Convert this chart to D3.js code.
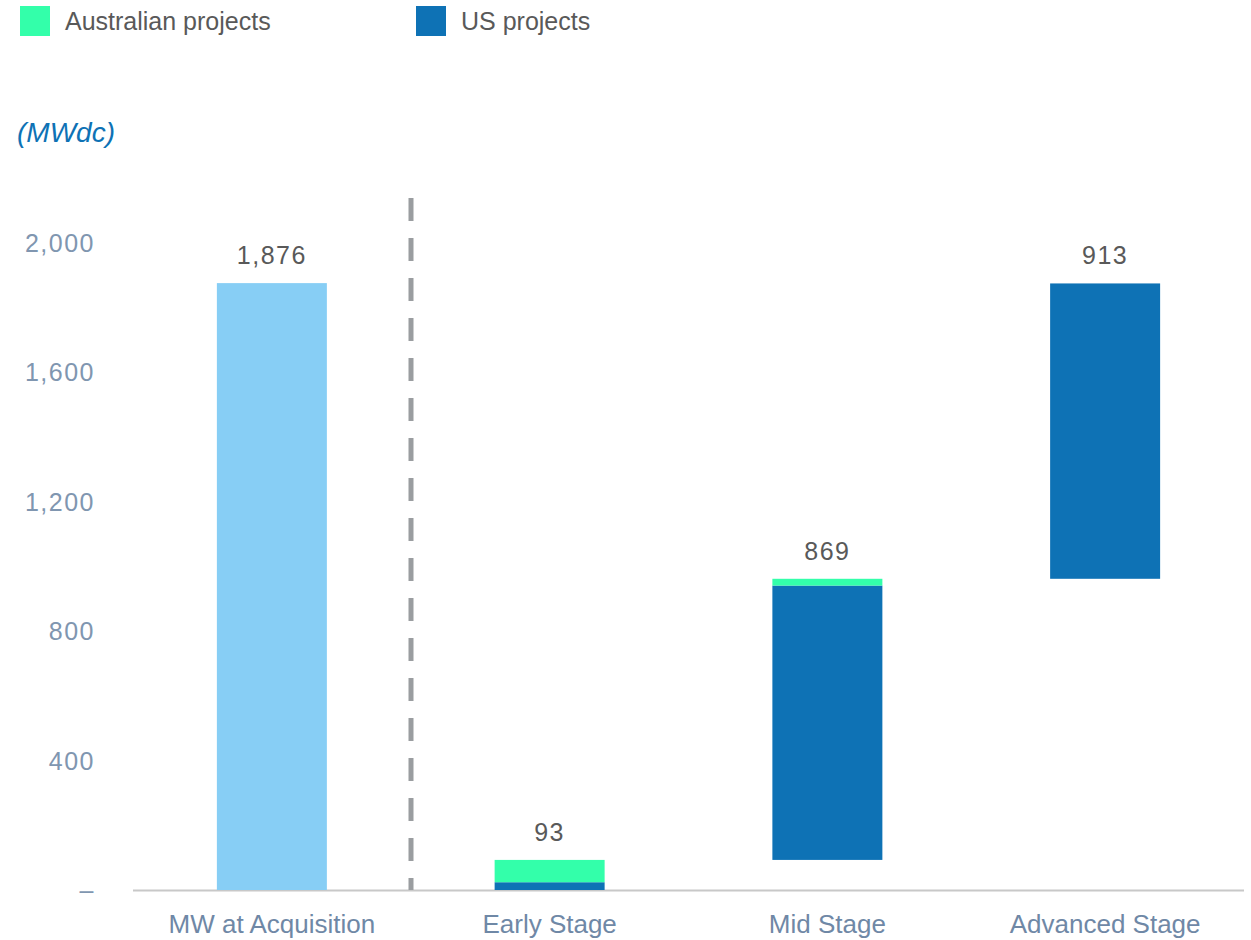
<!DOCTYPE html>
<html>
<head>
<meta charset="utf-8">
<script src="https://cdn.jsdelivr.net/npm/d3@7/dist/d3.min.js"></script>
<style>
  body { margin: 0; background: #fff; }
  text { font-family: "Liberation Sans", Arial, sans-serif; }
</style>
</head>
<body>
<script>
// categories and values
var categories = ["MW at Acquisition", "Early Stage", "Mid Stage", "Advanced Stage"];
var baseValues = [0, 0, 93, 962];          // where each step starts
var usValues = [0, 24, 848, 913];
var auValues = [0, 69, 21, 0];
var totalValues = [1876, 93, 869, 913];
var totalLabels = ["1,876", "93", "869", "913"];
var yTicks = [0, 400, 800, 1200, 1600, 2000];
var yTickLabels = ["\u2013", "400", "800", "1,200", "1,600", "2,000"];

var colAcq = "#87cef5", colAu = "#33ffaa", colUs = "#0e72b5";

var svg = d3.select("body").append("svg")
  .attr("width", 1251)
  .attr("height", 940);

// scales
var x = d3.scaleBand().domain(categories).range([133, 1244])
  .paddingInner(0.604).paddingOuter(0.302);
var y = d3.scaleLinear().domain([0, 2000]).range([890, 243]);

// legend
var legend = [{name: "Australian projects", c: colAu, x: 20}, {name: "US projects", c: colUs, x: 416}];
var lg = svg.append("g").selectAll("g").data(legend).enter().append("g");
lg.append("rect").attr("x", d => d.x).attr("y", 6).attr("width", 30).attr("height", 30).attr("fill", d => d.c);
lg.append("text").attr("x", d => d.x + 45).attr("y", 30).attr("font-size", 25)
  .attr("fill", "#595959").text(d => d.name);

// unit label
svg.append("text").attr("x", 17).attr("y", 142).attr("font-size", 28)
  .attr("font-style", "italic").attr("fill", colUs).text("(MWdc)");

// y tick labels
svg.append("g").selectAll("text").data(yTicks).enter().append("text")
  .attr("x", 95).attr("y", d => y(d) + 9)
  .attr("text-anchor", "end").attr("font-size", 25).attr("letter-spacing", 1.5)
  .attr("fill", "#8096b0")
  .text((d, i) => yTickLabels[i]);

// axis line
svg.append("line").attr("x1", 133).attr("x2", 1244).attr("y1", 890.5).attr("y2", 890.5)
  .attr("stroke", "#c8c8c8").attr("stroke-width", 2);

// separator
svg.append("line").attr("x1", 411).attr("x2", 411).attr("y1", 198).attr("y2", 890)
  .attr("stroke", "#9a9da0").attr("stroke-width", 5).attr("stroke-dasharray", "23,17");

// bars
var bars = svg.append("g");
categories.forEach(function(c, i) {
  var bx = x(c), bw = x.bandwidth();
  if (i === 0) {
    bars.append("rect").attr("x", bx).attr("width", bw)
      .attr("y", y(totalValues[0])).attr("height", y(0) - y(totalValues[0])).attr("fill", colAcq);
  } else {
    var b0 = baseValues[i];
    var b1 = b0 + usValues[i];
    var b2 = b1 + auValues[i];
    if (usValues[i] > 0)
      bars.append("rect").attr("x", bx).attr("width", bw)
        .attr("y", y(b1)).attr("height", y(b0) - y(b1)).attr("fill", colUs);
    if (auValues[i] > 0)
      bars.append("rect").attr("x", bx).attr("width", bw)
        .attr("y", y(b2)).attr("height", y(b1) - y(b2)).attr("fill", colAu);
  }
});

// value labels
svg.append("g").selectAll("text").data(categories).enter().append("text")
  .attr("x", d => x(d) + x.bandwidth() / 2)
  .attr("y", (d, i) => y(baseValues[i] + totalValues[i]) - 19)
  .attr("text-anchor", "middle").attr("font-size", 25).attr("letter-spacing", 1.5)
  .attr("fill", "#595959")
  .text((d, i) => totalLabels[i]);

// category labels
svg.append("g").selectAll("text").data(categories).enter().append("text")
  .attr("x", d => x(d) + x.bandwidth() / 2).attr("y", 933)
  .attr("text-anchor", "middle").attr("font-size", 26).attr("fill", "#6f88a6")
  .text(d => d);
</script>
</body>
</html>
